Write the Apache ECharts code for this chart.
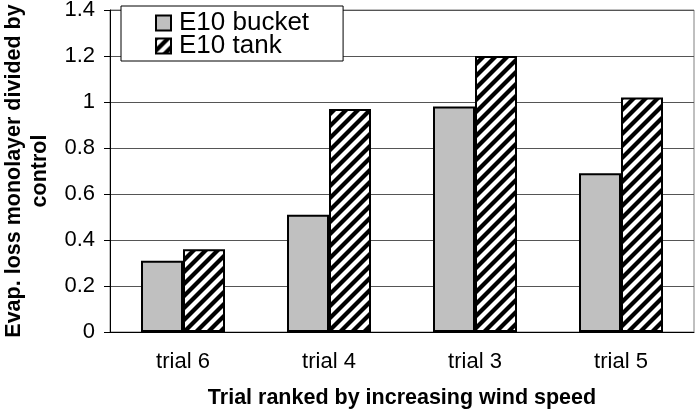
<!DOCTYPE html>
<html><head><meta charset="utf-8">
<script src="https://cdn.jsdelivr.net/npm/echarts@6/dist/echarts.min.js"></script>
<style>html,body{margin:0;padding:0;background:#fff}#c{width:695px;height:410px}</style>
</head><body><div id="c"></div>
<script>
const categories = ['trial 6', 'trial 4', 'trial 3', 'trial 5'];
const bucket = [0.31, 0.51, 0.98, 0.69];
const tank = [0.36, 0.97, 1.2, 1.02];
const seriesNames = ['E10 bucket', 'E10 tank'];

function hatch() {
  const s = 12;
  const c = document.createElement('canvas');
  c.width = s; c.height = s;
  const g = c.getContext('2d');
  g.fillStyle = '#fff'; g.fillRect(0, 0, s, s);
  g.strokeStyle = '#000'; g.lineWidth = 4.2;
  for (let k = -1; k <= 1; k++) {
    g.beginPath();
    g.moveTo(k * s - 2, s + 2);
    g.lineTo(k * s + s + 2, -2);
    g.stroke();
  }
  return c;
}

const font = 'Liberation Sans, Arial, sans-serif';
const chart = echarts.init(document.getElementById('c'));
chart.setOption({
  animation: false,
  textStyle: { fontFamily: font },
  grid: { left: 110, right: 1, top: 10, bottom: 78, containLabel: false, outerBoundsMode: 'none',
          show: true, borderColor: '#808080', borderWidth: 1 },
  legend: {
    orient: 'vertical', left: 121, top: 6, icon: 'rect',
    backgroundColor: '#fff', borderColor: '#000', borderWidth: 1,
    padding: [4, 34, 2, 34], itemGap: -3, itemWidth: 15, itemHeight: 15,
    textStyle: { fontSize: 26, color: '#000', fontFamily: font, padding: [0, 0, 0, 3] },
    data: seriesNames
  },
  xAxis: {
    type: 'category', data: categories,
    axisLine: { lineStyle: { color: '#000', width: 1 } },
    axisTick: { length: 6, lineStyle: { color: '#000' } },
    axisLabel: { fontSize: 22, color: '#000', margin: 19 },
    name: 'Trial ranked by increasing wind speed', nameLocation: 'middle', nameGap: 55,
    nameTextStyle: { fontSize: 21.5, fontWeight: 'bold', color: '#000' }
  },
  yAxis: {
    type: 'value', min: 0, max: 1.4, interval: 0.2,
    axisLine: { show: true, lineStyle: { color: '#000' } },
    axisTick: { show: true, length: 6, lineStyle: { color: '#000' } },
    axisLabel: { fontSize: 22, color: '#000', margin: 15, formatter: v => String(Math.round(v * 10) / 10) },
    splitLine: { lineStyle: { color: '#555', width: 1 } },
    name: 'Evap. loss monolayer divided by\ncontrol', nameLocation: 'middle', nameGap: 51,
    nameTextStyle: { fontSize: 21.5, fontWeight: 'bold', color: '#000', lineHeight: 26 }
  },
  series: [
    { name: seriesNames[0], type: 'bar', data: bucket, barWidth: 42, barGap: '0%',
      itemStyle: { color: '#c0c0c0', borderColor: '#000', borderWidth: 2 } },
    { name: seriesNames[1], type: 'bar', data: tank, barWidth: 42, barGap: '0%',
      itemStyle: { color: { image: hatch(), repeat: 'repeat' }, borderColor: '#000', borderWidth: 2 } }
  ]
});
</script></body></html>
